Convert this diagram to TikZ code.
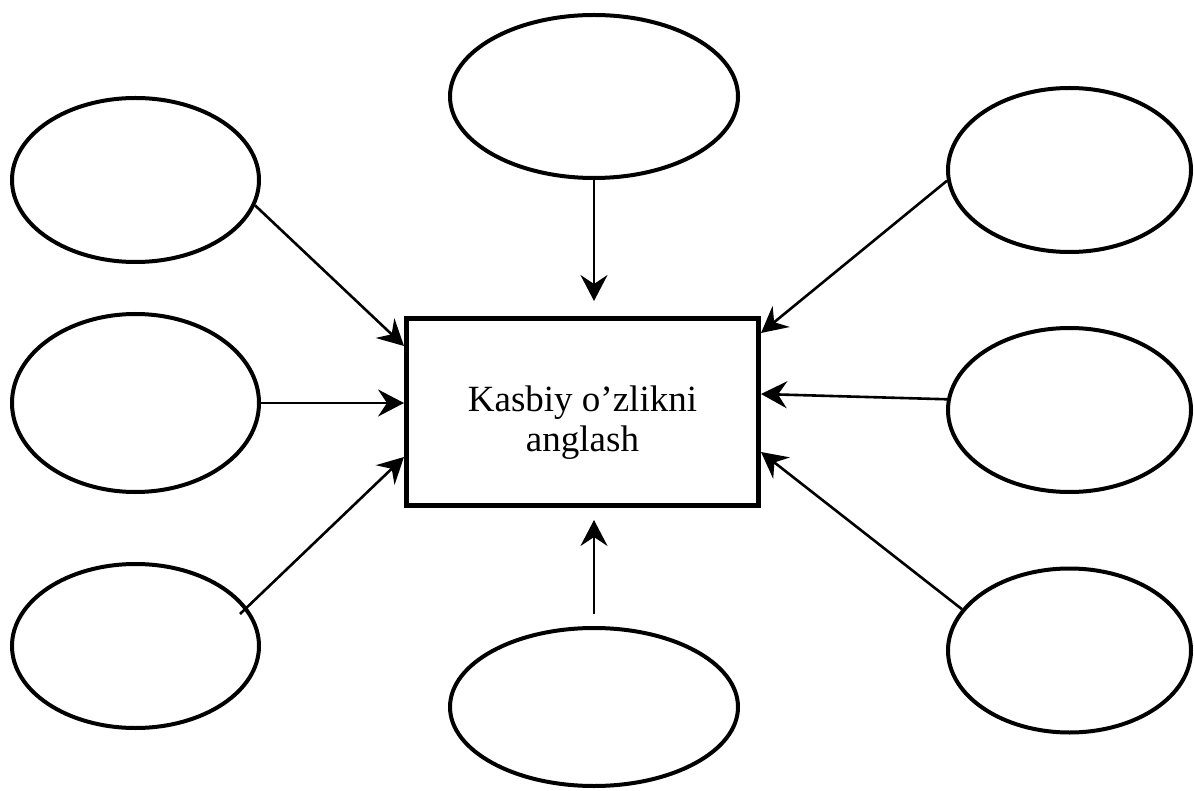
\documentclass[tikz,border=0pt]{standalone}
\usepackage{fontspec}
\setmainfont{Liberation Serif}
\usetikzlibrary{shapes.geometric,arrows.meta}

\begin{document}
\begin{tikzpicture}[x=1pt,y=-1pt,
	bulle/.style={ellipse, draw, line width=4pt, minimum width=247pt, minimum height=164pt},
	fleche/.style={-{Stealth[length=26pt,width=27pt,inset=9pt]}, line width=2.6pt},
	cadre/.style={rectangle, draw, line width=5pt, minimum width=352pt, minimum height=187pt,
		align=center, font=\fontsize{37}{40}\selectfont}]
	%\draw[help lines] (0,0) grid (1194,791);
	\useasboundingbox (0,0) rectangle (1194,791);
	\node[cadre] (sentrum) at (582.5,412) {\rule{0pt}{47pt}Kasbiy o’zlikni\\anglash};
	\path
		(594,96.5)    node[bulle,minimum width=288pt,minimum height=163pt] (haut){}
		(135.5,180)   node[bulle] (hg){}
		(135.5,403)   node[bulle,minimum height=178pt] (mg){}
		(135.5,646)   node[bulle] (bg){}
		(1069.5,170)  node[bulle,minimum width=243pt] (hd){}
		(1069.5,410)  node[bulle,minimum width=243pt] (md){}
		(1069.5,650.5) node[bulle,minimum width=243pt] (bd){}
		(594,707)     node[bulle,minimum width=288pt,minimum height=158pt] (bas){}
	;
	\draw[fleche,shorten >=15pt] (haut.south) -- (haut.south |- sentrum.north);
	\draw[fleche,shorten <=12pt,shorten >=12pt] (bas.north) -- (bas.north |- sentrum.south);
	\draw[fleche] (hg.-12) -- ([yshift=66pt]sentrum.west);
	\draw[fleche] (mg.east) -- (mg.east -| sentrum.west);
	\draw[fleche] ([xshift=104.5pt,yshift=32pt]bg.center) -- ([yshift=-45pt]sentrum.west);
	\draw[fleche] (hd.185) -- ([yshift=79pt]sentrum.east);
	\draw[fleche] (md.175) -- ([yshift=18pt]sentrum.east);
	\draw[fleche] (bd.159) -- ([yshift=-40pt]sentrum.east);
\end{tikzpicture}
\end{document}
